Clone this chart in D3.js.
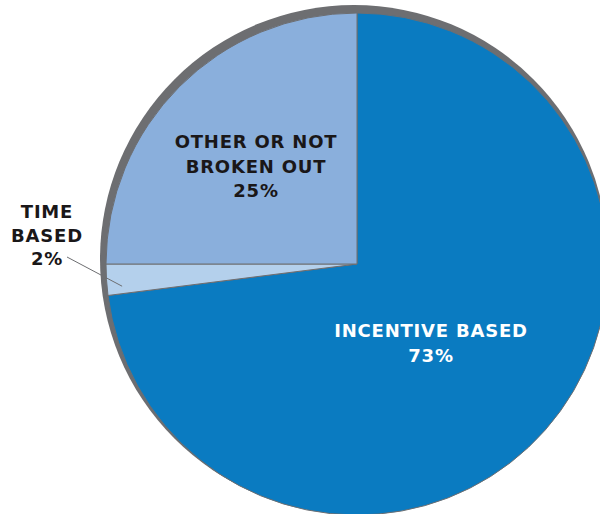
<!DOCTYPE html>
<html>
<head>
<meta charset="utf-8">
<script src="https://cdn.jsdelivr.net/npm/d3@7"></script>
<style>
  body { margin: 0; background: #fff; }
  text { font-family: "DejaVu Sans", sans-serif; font-weight: bold; letter-spacing: 0.8px; }
</style>
</head>
<body>
<div id="chart"></div>
<script>
// slices, clockwise from 12 o'clock
const categories = ["INCENTIVE BASED", "TIME BASED", "OTHER OR NOT BROKEN OUT"];
const shares = [73, 2, 25];
const colors = ["#0a7bc1", "#b4d0ec", "#8aafdc"];

const width = 600, height = 514;
const cx = 357, cy = 264, radius = 251;

const svg = d3.select("#chart").append("svg")
  .attr("width", width)
  .attr("height", height);

// gray rim behind the pie, offset up-left
svg.append("circle")
  .attr("cx", cx - 3)
  .attr("cy", cy - 5)
  .attr("r", radius + 3)
  .attr("fill", "#6d6e71");

const pie = d3.pie().sort(null).value(d => d);
const arc = d3.arc().innerRadius(0).outerRadius(radius);
const arcs = pie(shares);

const g = svg.append("g").attr("transform", `translate(${cx},${cy})`);

g.selectAll("path")
  .data(arcs)
  .enter().append("path")
  .attr("d", arc)
  .attr("fill", (d, i) => colors[i])
  .attr("stroke", "#6d6e71")
  .attr("stroke-width", 1);

// labels
const labels = [
  { lines: ["INCENTIVE BASED", shares[0] + "%"], x: 431, y: 337, fill: "#fff" },
  { lines: ["TIME", "BASED", shares[1] + "%"], x: 47, y: 218, fill: "#1a1718" },
  { lines: ["OTHER OR NOT", "BROKEN OUT", shares[2] + "%"], x: 256, y: 148, fill: "#1a1718" }
];
const lineH = [25, 23.5, 24.5];

labels.forEach((l, i) => {
  const t = svg.append("text")
    .attr("text-anchor", "middle")
    .attr("fill", l.fill)
    .style("font-size", "18px");
  l.lines.forEach((s, j) => {
    t.append("tspan").attr("x", l.x).attr("y", l.y + j * lineH[i]).text(s);
  });
});

// leader for the small slice
const a = arcs[1].startAngle + (arcs[1].endAngle - arcs[1].startAngle) * 0.25;
const inner = radius * 0.94;
svg.append("line")
  .attr("x1", 67).attr("y1", 257)
  .attr("x2", cx + Math.sin(a) * inner)
  .attr("y2", cy - Math.cos(a) * inner)
  .attr("stroke", "#6d6e71")
  .attr("stroke-width", 1);
</script>
</body>
</html>
